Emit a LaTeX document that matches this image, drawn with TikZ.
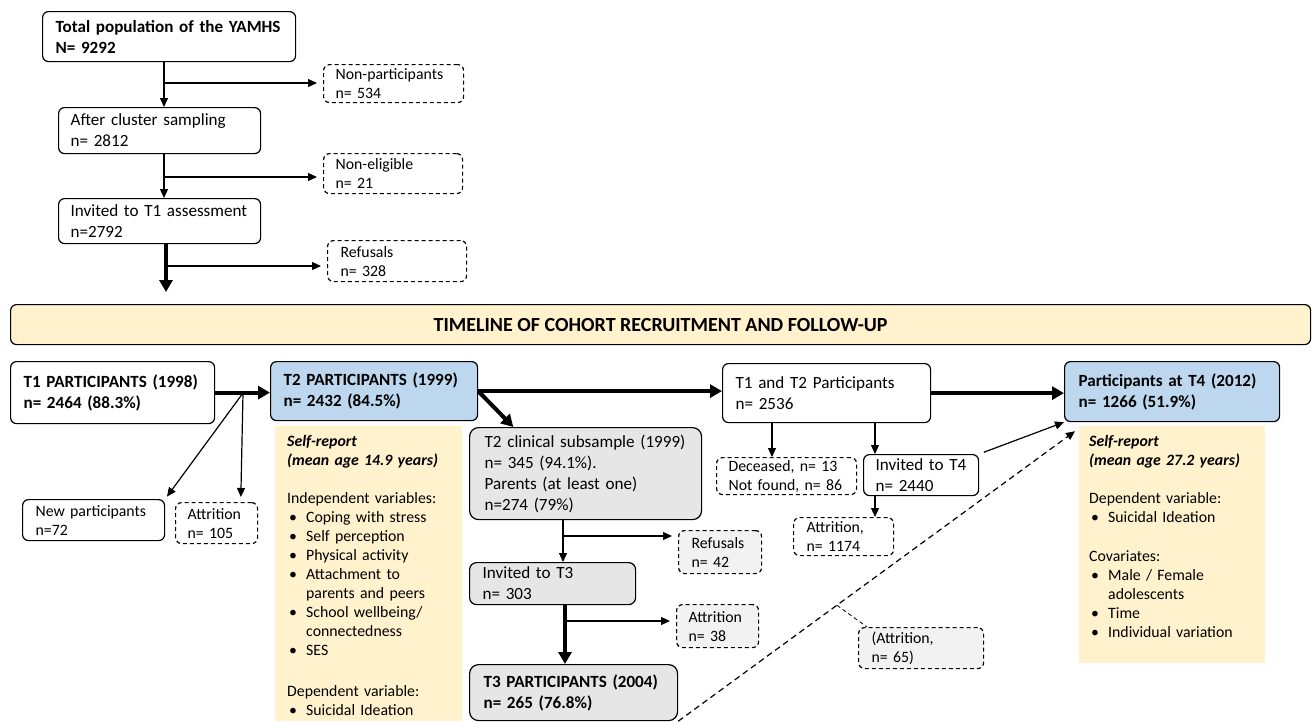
\documentclass[tikz,border=0pt]{standalone}
\usepackage{fontspec}
\setmainfont{Carlito}
\usetikzlibrary{arrows.meta,calc}
\definecolor{hiblue}{HTML}{BDD7EE}
\definecolor{paleyellow}{HTML}{FFF2CC}
\definecolor{boxgray}{HTML}{E7E6E6}
\definecolor{softgray}{HTML}{F2F2F2}
\newcommand{\bigtxt}{\fontsize{17.1}{21}\selectfont}
\newcommand{\smalltxt}{\fontsize{15.8}{19}\selectfont}
\newcommand{\itm}[1]{\par\hangindent=19pt\hangafter=1\noindent\makebox[19pt][l]{\hspace{2pt}\textbullet}#1}

\begin{document}
\begin{tikzpicture}[x=1pt,y=-1pt,
  box/.style={draw,line width=1.2pt,rounded corners=6pt,anchor=north west,inner xsep=0pt,inner ysep=1pt,align=left,font=\bigtxt,
    execute at begin node={\rightskip=0pt plus 1fil minus 1000pt}},
  dbox/.style={box,dash pattern=on 4pt off 3pt,font=\smalltxt},
  gbox/.style={box,fill=boxgray,rounded corners=9pt},
  sz/.style n args={3}{minimum width=#1pt,minimum height=#2pt,text width=#3pt},
  info/.style={anchor=north west,inner xsep=12pt,inner ysep=9pt,text width=165pt,align=left,font=\smalltxt},
  arr/.style={line width=1.2pt,-{Triangle[length=9pt,width=8pt]}},
  side/.style={arr,shorten >=6pt},
  bigarr/.style={line width=4pt,-{Triangle[length=12pt,width=13pt]}},
  dasharr/.style={arr,dash pattern=on 6pt off 4pt}]
\useasboundingbox (0,0) rectangle (1312,721);

% recruitment
\node[box,sz={253}{50}{227},font=\bigtxt\bfseries] (total) at (42,11) {Total population of the YAMHS\\N= 9292};
\node[dbox,sz={140}{38}{116}] (nonpart) at (323,64) {Non-participants\\n= 534};
\node[box,sz={202}{46}{178}] (cluster) at (58,107) {After cluster sampling\\n= 2812};
\node[dbox,sz={139}{40}{115}] (noneleg) at (323,153) {Non-eligible\\n= 21};
\node[box,sz={202}{45}{178}] (invT1) at (58,198) {Invited to T1 assessment\\n=2792};
\node[dbox,sz={139}{41}{113}] (refT1) at (327,240) {Refusals\\n= 328};

\node[box,fill=paleyellow,minimum width=1300pt,minimum height=40pt,align=center,font=\fontsize{20}{24}\selectfont\bfseries] (banner) at (10,304) {TIMELINE OF COHORT RECRUITMENT AND FOLLOW-UP};

% timeline
\node[box,sz={204}{62}{178},font=\bigtxt\bfseries] (T1) at (10,361) {T1 PARTICIPANTS (1998)\\n= 2464 (88.3\%)};
\node[box,sz={207}{59}{181},fill=hiblue,font=\bigtxt\bfseries] (T2) at (270,361) {T2 PARTICIPANTS (1999)\\n= 2432 (84.5\%)};
\node[box,sz={142}{41}{116},font=\smalltxt] (newpart) at (22,499) {New participants\\n=72};
\node[dbox,sz={82}{41}{58}] (attT1) at (175,502) {Attrition\\n= 105};

\fill[paleyellow] (275,426) rectangle (462,721);
\node[info] (t2info) at (275,426) {\textbf{\textit{Self-report}}\\\textbf{\textit{(mean age 14.9 years)}}\\[19pt]Independent variables:\itm{Coping with stress}\itm{Self perception}\itm{Physical activity}\itm{Attachment to\newline parents and peers}\itm{School wellbeing/\newline connectedness}\itm{SES}\par\vspace{22pt}Dependent variable:\itm{Suicidal Ideation}};

\node[gbox,sz={232}{92}{202}] (clinical) at (469,427) {T2 clinical subsample (1999)\\n= 345 (94.1\%).\\Parents (at least one)\\n=274 (79\%)};
\node[dbox,fill=softgray,sz={83}{43}{57}] (refT3) at (678,530) {Refusals\\n= 42};
\node[gbox,rounded corners=7pt,sz={166}{42}{140}] (invT3) at (469,562) {Invited to T3\\n= 303};
\node[dbox,fill=softgray,sz={82}{43}{58}] (attT3) at (676,604) {Attrition\\n= 38};
\node[gbox,sz={208}{56}{180},font=\bigtxt\bfseries] (T3) at (469,664) {T3 PARTICIPANTS (2004)\\n= 265 (76.8\%)};

\node[box,sz={208}{59}{182}] (t12) at (722,363) {T1 and T2 Participants\\n= 2536};
\node[dbox,sz={140}{37}{116}] (dec) at (716,457) {Deceased, n= 13\\Not found, n= 86};
\node[box,sz={115}{41}{91}] (invT4) at (863,454) {Invited to T4\\n= 2440};
\node[dbox,sz={100}{38}{74}] (att1174) at (793,517) {Attrition,\\n= 1174};
\node[dbox,fill=softgray,sz={125}{41}{99}] (att65) at (858,627) {(Attrition,\\n= 65)};

\node[box,sz={215}{60}{187},fill=hiblue,font=\bigtxt\bfseries] (T4) at (1064,361) {Participants at T4 (2012)\\n= 1266 (51.9\%)};
\fill[paleyellow] (1079,426) rectangle (1265,663);
\node[info,inner xsep=10pt] (t4info) at (1079,426) {\textbf{\textit{Self-report}}\\\textbf{\textit{(mean age 27.2 years)}}\\[19pt]Dependent variable:\itm{Suicidal Ideation}\par\vspace{20pt}Covariates:\itm{Male / Female\newline adolescents}\itm{Time}\itm{Individual variation}};

% connectors
\coordinate (jA) at (164,83);
\coordinate (jB) at (164,177);
\coordinate (jC) at (166,266);
\coordinate (t1end) at (166,292);
\coordinate (jD) at (243,393);
\coordinate (jE) at (563,536);
\coordinate (jF) at (565,621);
\coordinate (decin) at (772,457);
\coordinate (t4in) at (875,454);

\draw[arr] (total.south -| jA) -- (cluster.north -| jA);
\draw[side] (jA) -- (nonpart.west |- jA);
\draw[arr] (cluster.south -| jB) -- (invT1.north -| jB);
\draw[side] (jB) -- (noneleg.west |- jB);
\draw[bigarr] (invT1.south -| jC) -- (t1end);
\draw[side] (jC) -- (refT1.west |- jC);

\draw[bigarr] (T1.east) -- (T2.west |- T1.east);
\draw[arr,shorten >=3pt] (jD) -- (newpart.north east);
\draw[arr,shorten >=5pt] (jD) -- ($(attT1.north west)!0.79!(attT1.north east)$);
\draw[bigarr] (T2.east) -- (t12.west |- T2.east);
\draw[bigarr] (T2.east) -- ($(clinical.north west)!0.19!(clinical.north east)$);
\draw[arr] (clinical.south -| jE) -- (invT3.north -| jE);
\draw[side] (jE) -- (refT3.west |- jE);
\draw[bigarr] (invT3.south -| jF) -- (T3.north -| jF);
\draw[side] (jF) -- (attT3.west |- jF);

\draw[bigarr] (t12.east) -- (T4.west |- t12.east);
\draw[arr] (t12.south -| decin) -- (decin);
\draw[arr] (t12.south -| t4in) -- (t4in);
\draw[arr] (invT4.south -| t4in) -- (att1174.north -| t4in);
\draw[arr,shorten <=5pt] (invT4.north east) -- (T4.south west);
\draw[dasharr] (T3.south east) -- coordinate[pos=0.4] (jG) ([shift={(11,9)}]T4.south west);
\draw[line width=0.8pt,dash pattern=on 4pt off 3pt] (jG) -- ($(att65.north west)+(9,0)$);
\end{tikzpicture}
\end{document}
